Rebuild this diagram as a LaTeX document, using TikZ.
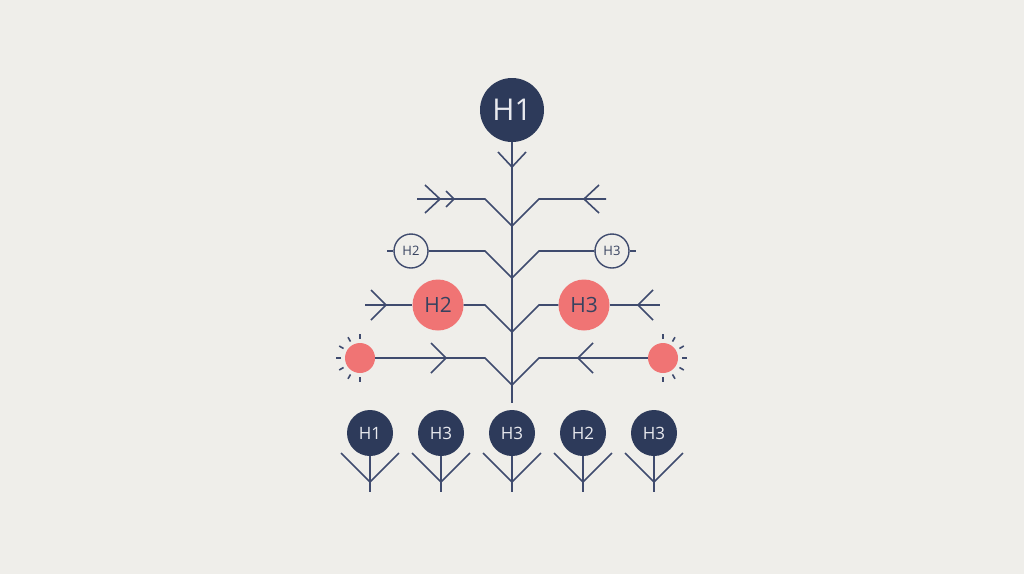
\documentclass[tikz,border=0pt]{standalone}
\usepackage{fontspec}
\setmainfont{Open Sans}
\usetikzlibrary{calc}
\definecolor{bg}{HTML}{EFEEEA}
\definecolor{navy}{HTML}{2D3A5A}
\definecolor{ln}{HTML}{3F4B6E}
\definecolor{coral}{HTML}{F07474}
\definecolor{lighttext}{HTML}{E9EAEF}
\definecolor{darktext}{HTML}{37425F}
\tikzset{
  wire/.style={draw=ln, line width=1.6pt, line join=miter},
  navybig/.style={circle, fill=navy, minimum size=64pt, inner sep=0pt, text=lighttext, font=\fontsize{30}{30}\selectfont},
  smallout/.style={circle, draw=ln, line width=1.4pt, fill=bg, minimum size=34pt, inner sep=0pt, text=darktext, font=\fontsize{13}{13}\selectfont},
  coralnode/.style={circle, fill=coral, minimum size=51pt, inner sep=0pt, text=darktext, font=\fontsize{21}{21}\selectfont},
  sunnode/.style={circle, fill=coral, minimum size=30pt, inner sep=0pt},
  leaf/.style={circle, fill=navy, minimum size=46pt, inner sep=0pt, text=lighttext, font=\fontsize{17}{17}\selectfont},
  ray/.style={draw=ln, line width=1.6pt}
}
\begin{document}
\begin{tikzpicture}[x=1pt, y=-1pt]
\fill[bg] (0,0) rectangle (1024,574);
\useasboundingbox (0,0) rectangle (1024,574);

% top node and trunk
\node[navybig] (top) at (512,110) {H1};
\coordinate (tb) at (512,403);
\draw[wire] (top.south) -- (tb);
\draw[wire] (498,152) -- (512,167) -- (526,152);

% junctions
\coordinate (j1) at (512,226);
\coordinate (j2) at (512,278);
\coordinate (j3) at (512,332);
\coordinate (j4) at (512,385);

% row 1
\coordinate (r1l) at (417,199);
\coordinate (r1r) at (606,199);
\draw[wire] (r1l) -- (485,199) -- (j1) -- (539,199) -- (r1r);
\draw[wire] (425,185) -- (440,199) -- (425,213);
\draw[wire] (446,191) -- (454,199) -- (446,207);
\draw[wire] (599,185) -- (584,199) -- (599,213);

% row 2
\node[smallout] (h2s) at (411,251) {H2};
\node[smallout] (h3s) at (612,251) {H3};
\coordinate (r2l) at (387,251);
\coordinate (r2r) at (636,251);
\draw[wire] (r2l) -- (h2s.west);
\draw[wire] (h3s.east) -- (r2r);
\draw[wire] (h2s.east) -- (485,251) -- (j2) -- (539,251) -- (h3s.west);

% row 3
\node[coralnode] (h2c) at (438,305) {H2};
\node[coralnode] (h3c) at (584,305) {H3};
\coordinate (r3l) at (365,305);
\coordinate (r3r) at (660,305);
\draw[wire] (r3l) -- (h2c.west);
\draw[wire] (h3c.east) -- (r3r);
\draw[wire] (h2c.east) -- (485,305) -- (j3) -- (539,305) -- (h3c.west);
\draw[wire] (371,290) -- (386,305) -- (371,320);
\draw[wire] (653,290) -- (638,305) -- (653,320);

% row 4
\node[sunnode] (sl) at (360,358) {};
\node[sunnode] (sr) at (663,358) {};
\draw[wire] (sl.east) -- (485,358) -- (j4) -- (539,358) -- (sr.west);
\draw[wire] (431,343) -- (446,358) -- (431,373);
\draw[wire] (593,343) -- (578,358) -- (593,373);
\foreach \a in {90,120,...,270} \draw[ray] ($(sl)+(\a:19)$) -- ($(sl)+(\a:24)$);
\foreach \a in {-90,-60,...,90} \draw[ray] ($(sr)+(\a:19)$) -- ($(sr)+(\a:24)$);

% bottom leaves
\foreach \x/\t/\n in {370/H1/a,441/H3/b,512/H3/c,583/H2/d,654/H3/e}{
  \node[leaf] (leaf\n) at (\x,433) {\t};
  \coordinate (stem\n) at (\x,492);
  \draw[wire] (leaf\n.south) -- (stem\n);
  \draw[wire] (\x-29,453) -- (\x,482) -- (\x+29,453);
}
\end{tikzpicture}
\end{document}
